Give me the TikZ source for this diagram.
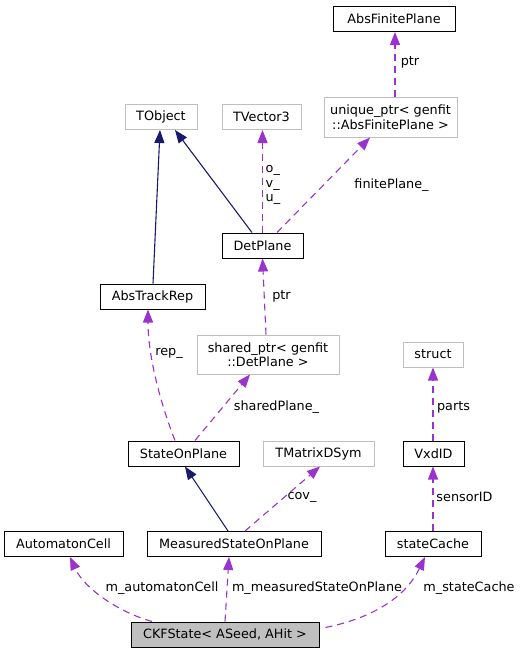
\documentclass[tikz,border=0pt]{standalone}
\usepackage{fontspec}
\setmainfont{DejaVu Sans}
\usetikzlibrary{arrows.meta, positioning, calc}
\definecolor{edgepurple}{HTML}{9A32CD}
\definecolor{edgenavy}{HTML}{191970}
\definecolor{boxgray}{HTML}{BFBFBF}

\begin{document}
\begin{tikzpicture}[
    x=1pt, y=-1pt,
    every node/.style={font=\fontsize{12.8}{14.5}\selectfont, inner sep=0pt}, % 统一字体
    cls/.style={draw=black, line width=1pt, fill=white, minimum height=25pt}, % 有文档的类(黑框)
    ext/.style={draw=boxgray, line width=1pt, fill=white, minimum height=25pt}, % 外部类(灰框)
    main/.style={cls, fill=boxgray}, % 当前类(灰底)
    uses/.style={edgepurple, line width=1.1pt, dash pattern=on 7pt off 5pt, -{Triangle[length=13pt,width=10pt]}}, % 成员引用(紫色虚线)
    isa/.style={edgenavy, line width=1.1pt, -{Triangle[length=13pt,width=10pt]}}, % 继承(深蓝实线)
    lbl/.style={black, align=left} % 连线标注
]
    \useasboundingbox (0,0) rectangle (521,653);

    % 1. 类框
    \node[main, minimum width=188pt] (ckf) at (225,634.5) {CKFState< ASeed, AHit >};
    \node[cls, minimum width=119pt] (auto) at (63.5,544) {AutomatonCell};
    \node[cls, minimum width=174pt] (msop) at (234,544) {MeasuredStateOnPlane};
    \node[cls, minimum width=96pt] (cache) at (433,544) {stateCache};
    \node[cls, minimum width=111pt] (sop) at (183.5,453.5) {StateOnPlane};
    \node[ext, minimum width=111pt] (tmat) at (318.5,453.5) {TMatrixDSym};
    \node[cls, minimum width=61pt] (vxd) at (433.5,453.5) {VxdID};
    \node[ext, minimum width=60pt] (struct) at (433,354.5) {struct};
    \node[ext, minimum width=142pt, minimum height=39pt, align=center] (sptr) at (268,354.5) {shared\_ptr< genfit\\::DetPlane >};
    \node[cls, minimum width=105pt] (atr) at (152.5,296.5) {AbsTrackRep};
    \node[cls, minimum width=81pt] (det) at (262.5,245.5) {DetPlane};
    \node[ext, minimum width=72pt] (tobj) at (161,117) {TObject};
    \node[ext, minimum width=79pt] (tvec) at (261.5,117) {TVector3};
    \node[ext, minimum width=133pt, minimum height=40pt, align=center] (uptr) at (390.5,117) {unique\_ptr< genfit\\::AbsFinitePlane >};
    \node[cls, minimum width=122pt] (afp) at (394,19) {AbsFinitePlane};

    % 2. 继承关系
    \draw[isa] ([xshift=-6pt]msop.north) -- ([xshift=1.5pt]sop.south);
    \draw[isa] ([xshift=0.5pt]atr.north) -- ([xshift=-1pt]tobj.south);
    \draw[isa] ([xshift=-10.5pt]det.north) -- ([xshift=14pt]tobj.south);

    % 3. 成员引用
    \draw[uses] ([xshift=-73pt]ckf.north) .. controls (118,612) and (84,588) .. ([xshift=6.5pt]auto.south);
    \draw[uses] (ckf.north) -- ([xshift=-5pt]msop.south);
    \draw[uses] ([xshift=6pt,yshift=7pt]ckf.east) .. controls (372,618) and (405,598) .. ([xshift=-8pt]cache.south);
    \draw[uses] ([xshift=11pt]msop.north) -- ([xshift=1.5pt]tmat.south);
    \draw[uses] (cache.north) -- ([xshift=-0.5pt]vxd.south);
    \draw[uses] ([xshift=-0.5pt]vxd.north) -- (struct.south);
    \draw[uses] ([xshift=-8.5pt]sop.north) .. controls (163,410) and (148,360) .. ([xshift=-4.5pt]atr.south);
    \draw[uses] ([xshift=11.5pt]sop.north) -- ([xshift=-18pt]sptr.south);
    \draw[uses] ([xshift=-2pt]sptr.north) -- (det.south);
    \draw[uses] (det.north) -- ([xshift=1pt]tvec.south);
    \draw[uses] ([xshift=14.5pt]det.north) -- ([xshift=-20.5pt]uptr.south);
    \draw[uses] ([xshift=4.5pt]uptr.north) -- ([xshift=1pt]afp.south);

    % 4. 连线标注
    \node[lbl] (l_auto) at (162,588) {m\_automatonCell};
    \node[lbl] (l_msop) at (317,588) {m\_measuredStateOnPlane};
    \node[lbl] (l_cache) at (469,588) {m\_stateCache};
    \node[lbl] (l_cov) at (302,497) {cov\_};
    \node[lbl] (l_sensor) at (464.5,497) {sensorID};
    \node[lbl] (l_parts) at (453.5,407) {parts};
    \node[lbl] (l_rep) at (169,353) {rep\_};
    \node[lbl] (l_shared) at (276.5,407) {sharedPlane\_};
    \node[lbl] (l_ptr) at (281.5,296) {ptr};
    \node[lbl] (l_ovu) at (273,185) {o\_\\v\_\\u\_};
    \node[lbl] (l_finite) at (391.5,185) {finitePlane\_};
    \node[lbl] (l_ptr2) at (410,62) {ptr};

\end{tikzpicture}
\end{document}
